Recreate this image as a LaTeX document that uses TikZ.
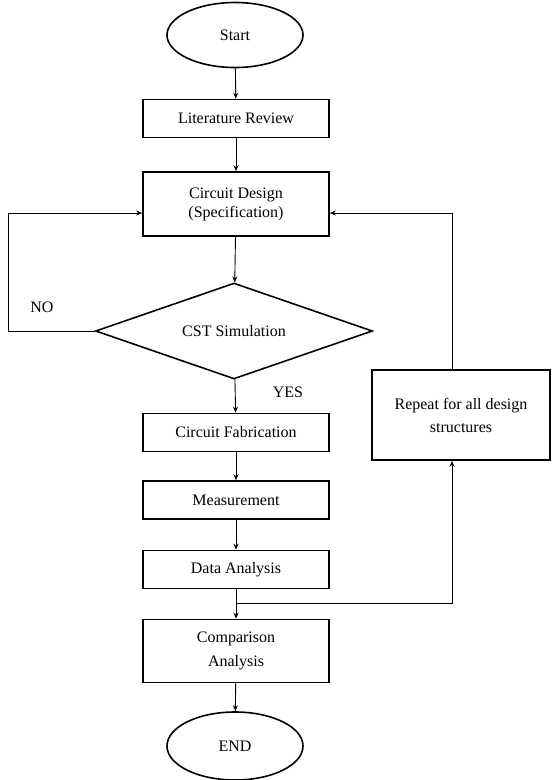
\documentclass[tikz,border=0pt]{standalone}
\usepackage{fontspec}
\setmainfont{Liberation Serif}
\usetikzlibrary{shapes.geometric,arrows.meta}
\tikzset{
process/.style={
	draw, line width=1.6pt, rectangle, minimum width=186pt,
	minimum height=38pt, inner sep=2pt, align=center},
terminal/.style={
	draw, line width=1.6pt, ellipse, minimum width=136pt,
	minimum height=65pt, inner sep=0pt},
decision/.style={
	draw, line width=1.6pt, diamond, aspect=2.9, minimum width=277pt,
	minimum height=96pt, inner sep=0pt},
flow/.style={line width=0.9pt, -{Stealth[length=6pt,width=5pt]}}
}

\begin{document}
\begin{tikzpicture}[x=1pt, y=-1pt, font=\fontsize{16}{19}\selectfont]
	\useasboundingbox (0,0) rectangle (552,780);
	\node[terminal] (start) at (235,35) {Start};
	\node[process] (review) at (236,118.5) {Literature Review};
	\node[process, minimum height=64pt] (design) at (236,204)
		{Circuit Design\\(Specification)};
	\node[decision] (cst) at (234,331) {CST Simulation};
	\node[process] (fab) at (236,432.5) {Circuit Fabrication};
	\node[process] (meas) at (236,500) {Measurement};
	\node[process] (data) at (236,569.5) {Data Analysis};
	\node[process, minimum height=63pt] (comp) at (236,651)
		{Comparison\\[5pt]Analysis};
	\node[terminal, minimum height=68pt] (stop) at (235,746) {END};
	\node[process, minimum width=178pt, minimum height=90pt] (repeat)
		at (461,415) {Repeat for all design\\[4pt]structures};
	% main line
	\draw[flow] (start) -- (review);
	\draw[flow] (review) -- (design);
	\draw[flow] (design) -- (cst);
	\draw[flow] (cst) -- (fab);
	\draw[flow] (fab) -- (meas);
	\draw[flow] (meas) -- (data);
	\draw[flow] (data) -- (comp);
	\draw[flow] (comp) -- (stop);
	% loops back
	\coordinate (split) at (data.south |- 0,603);
	\draw[flow] (cst.west) -| (8,213) -- (design.west |- 0,213);
	\draw[flow] (split) -| (452,0 |- repeat.south);
	\draw[flow] (452,0 |- repeat.north) |- (design.east |- 0,213);
	\node (no) at (42,307) {NO};
	\node (yes) at (288,392) {YES};
\end{tikzpicture}
\end{document}
